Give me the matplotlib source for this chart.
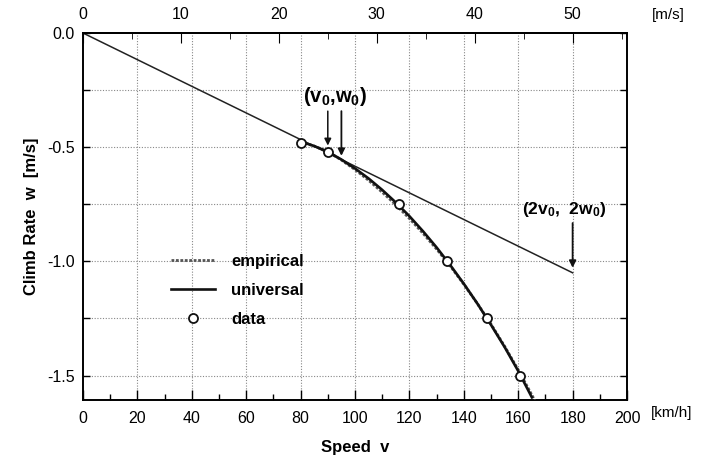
import matplotlib
matplotlib.use("Agg")
import matplotlib.pyplot as plt
from matplotlib.ticker import MultipleLocator, FixedLocator

plt.rcParams['font.family'] = ['Liberation Sans', 'DejaVu Sans']
plt.rcParams['mathtext.fontset'] = 'custom'
plt.rcParams['mathtext.rm'] = 'Liberation Sans'
plt.rcParams['mathtext.bf'] = 'Liberation Sans:bold'
plt.rcParams['mathtext.default'] = 'regular'

# ---- data ----
line_v = [0, 180]
line_w = [0.0, -1.05]

universal_v = [80, 85, 90, 95, 100, 105, 110, 115, 120, 125, 130, 135, 140, 145, 150, 155, 160, 165]
universal_w = [-0.475, -0.495, -0.52, -0.554, -0.593, -0.637, -0.687, -0.742, -0.802, -0.868,
               -0.939, -1.016, -1.098, -1.185, -1.278, -1.375, -1.48, -1.595]

empirical_v = [80, 85, 90, 95, 100, 105, 110, 115, 120, 125, 130, 135, 140, 145, 150, 155, 160, 166]
empirical_w = [-0.475, -0.495, -0.52, -0.556, -0.598, -0.645, -0.697, -0.752, -0.812, -0.877,
               -0.946, -1.02, -1.10, -1.185, -1.275, -1.372, -1.475, -1.607]

data_v = [80, 90, 116, 134, 148.5, 160.5]
data_w = [-0.48, -0.52, -0.75, -1.0, -1.25, -1.5]

xticks_kmh = [0, 20, 40, 60, 80, 100, 120, 140, 160, 180, 200]
xticks_ms = [0, 10, 20, 30, 40, 50]
yticks_major = [0.0, -0.5, -1.0, -1.5]

fig = plt.figure(figsize=(7.11, 4.61), dpi=100)
ax = fig.add_axes([0.1167, 0.1323, 0.7652, 0.7961])

ax.set_xlim(0, 200)
ax.set_ylim(-1.607, 0)

# grid
for v in xticks_kmh[1:-1]:
    ax.axvline(v, color='#888888', lw=0.8, ls=(0, (1, 1.5)), zorder=0)
for w in [-0.25, -0.5, -0.75, -1.0, -1.25, -1.5]:
    ax.axhline(w, color='#888888', lw=0.8, ls=(0, (1, 1.5)), zorder=0)

ax.plot(line_v, line_w, color='#222222', lw=1.1, zorder=2)
ax.plot(empirical_v, empirical_w, color='#555555', lw=2.0, ls=(0, (1, 0.6)), zorder=3, label='empirical')
ax.plot(universal_v, universal_w, color='#111111', lw=1.9, zorder=4, label='universal')
ax.plot(data_v, data_w, ls='none', marker='o', ms=6.5, mfc='white', mec='#111111', mew=1.3,
        zorder=5, label='data')

# legend
leg = ax.legend(loc='upper left', bbox_to_anchor=(0.135, 0.44), frameon=False,
                handlelength=2.6, handletextpad=1.0, labelspacing=0.85,
                prop={'size': 12, 'weight': 'bold'})

# annotations
ax.text(92.5, -0.28, r'(v$_0$,w$_0$)', ha='center', va='center', fontsize=14.5, fontweight='bold')
ax.annotate('', xy=(90, -0.505), xytext=(90, -0.33),
            arrowprops=dict(arrowstyle='-|>', color='#111111', lw=1.1, mutation_scale=10))
ax.annotate('', xy=(95, -0.55), xytext=(95, -0.33),
            arrowprops=dict(arrowstyle='-|>', color='#111111', lw=1.3, mutation_scale=10))
ax.text(177, -0.775, r'(2v$_0$,  2w$_0$)', ha='center', va='center', fontsize=12.5, fontweight='bold')
ax.annotate('', xy=(180, -1.04), xytext=(180, -0.82),
            arrowprops=dict(arrowstyle='-|>', color='#111111', lw=1.3, mutation_scale=10))

# bottom axis ticks
ax.xaxis.set_major_locator(FixedLocator(xticks_kmh))
ax.xaxis.set_minor_locator(MultipleLocator(10))
ax.set_xticklabels([str(v) for v in xticks_kmh])
ax.yaxis.set_major_locator(FixedLocator(yticks_major))
ax.yaxis.set_minor_locator(FixedLocator([-0.25, -0.75, -1.25]))
ax.set_yticklabels(['0.0', '-0.5', '-1.0', '-1.5'])
ax.tick_params(axis='both', which='both', direction='in', labelsize=11.5, width=1.0)
ax.tick_params(axis='x', which='major', length=7, pad=8)
ax.tick_params(axis='x', which='minor', length=4)
ax.tick_params(axis='y', which='both', length=5, right=True, pad=6)
for s in ax.spines.values():
    s.set_linewidth(1.4)

# top axis in m/s
top = ax.secondary_xaxis('top', functions=(lambda x: x / 3.6, lambda x: x * 3.6))
top.xaxis.set_major_locator(FixedLocator(xticks_ms))
top.xaxis.set_minor_locator(MultipleLocator(5))
top.set_xticklabels([str(v) for v in xticks_ms])
top.tick_params(axis='x', which='major', direction='in', length=7, labelsize=11.5, pad=8)
top.tick_params(axis='x', which='minor', direction='in', length=4)
top.spines['top'].set_linewidth(1.4)

fig.text(668 / 711, 1 - 15 / 461, '[m/s]', ha='center', va='center', fontsize=11)
fig.text(672 / 711, 1 - 413 / 461, '[km/h]', ha='center', va='center', fontsize=11)

ax.set_xlabel('Speed  v', fontsize=12, fontweight='bold', labelpad=10)
ax.set_ylabel('Climb Rate  w  [m/s]', fontsize=12, fontweight='bold', labelpad=6)

fig.savefig('out.png', dpi=100)
